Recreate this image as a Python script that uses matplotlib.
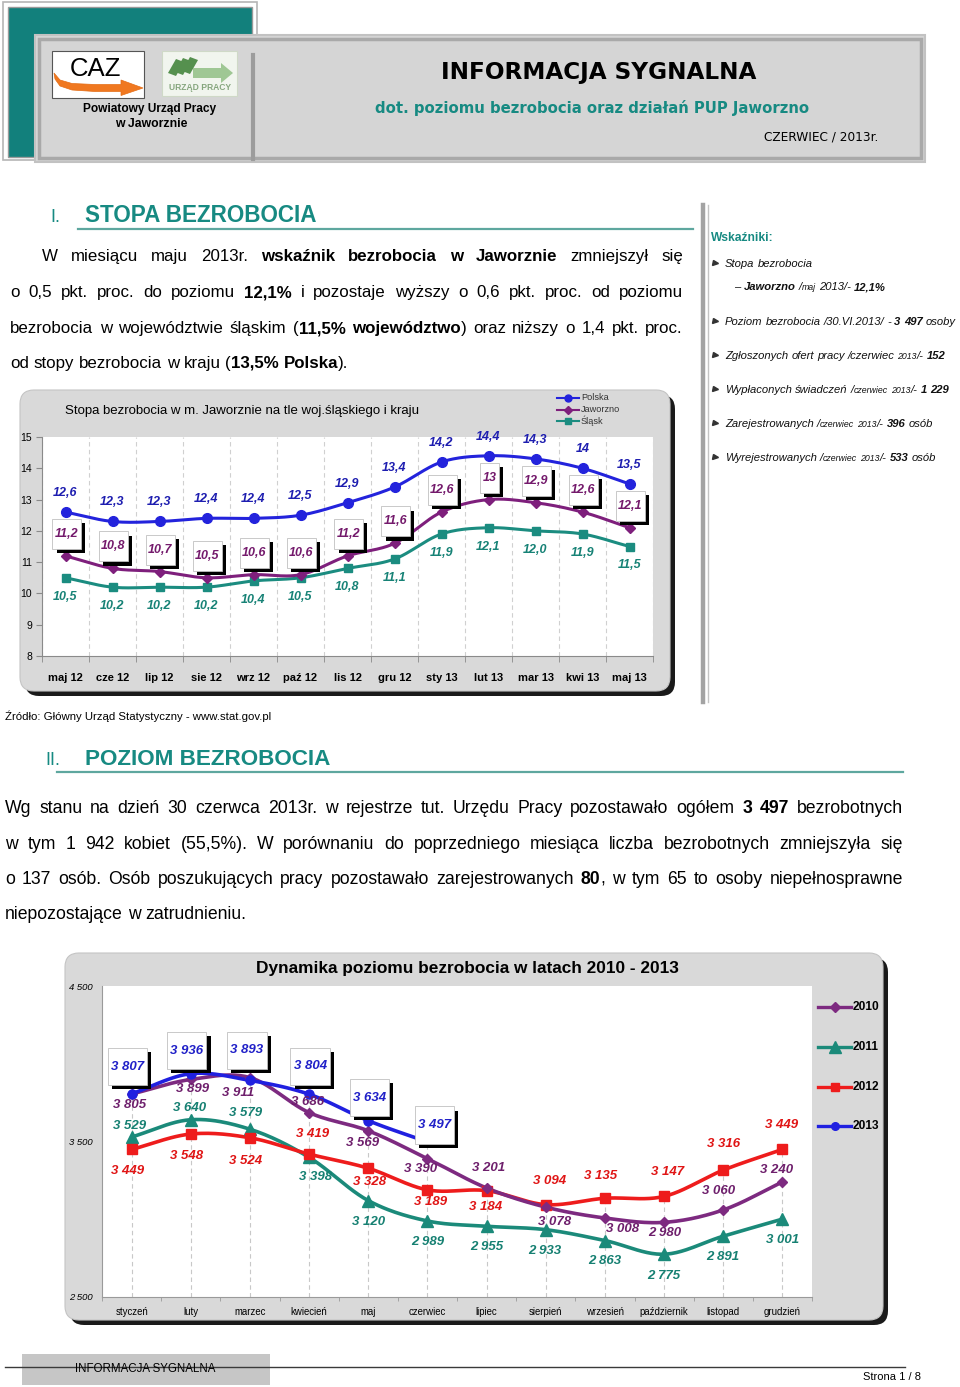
import re

import matplotlib
matplotlib.use("Agg")
import numpy as np
import matplotlib.pyplot as plt
from matplotlib import font_manager as fm
from matplotlib import patheffects as pe
from matplotlib.patches import Rectangle, FancyBboxPatch, Polygon
from matplotlib.path import Path


# ---- chart 1: unemployment rate (%) -------------------------------------
MONTHS_1 = ["maj 12", "cze 12", "lip 12", "sie 12", "wrz 12", "paź 12", "lis 12",
            "gru 12", "sty 13", "lut 13", "mar 13", "kwi 13", "maj 13"]
POLSKA = [12.6, 12.3, 12.3, 12.4, 12.4, 12.5, 12.9, 13.4, 14.2, 14.4, 14.3, 14.0, 13.5]
JAWORZNO = [11.2, 10.8, 10.7, 10.5, 10.6, 10.6, 11.2, 11.6, 12.6, 13.0, 12.9, 12.6, 12.1]
SLASK = [10.5, 10.2, 10.2, 10.2, 10.4, 10.5, 10.8, 11.1, 11.9, 12.1, 12.0, 11.9, 11.5]
RATE_TICKS = [8, 9, 10, 11, 12, 13, 14, 15]

# ---- chart 2: number of unemployed ---------------------------------------
MONTHS_2 = ["styczeń", "luty", "marzec", "kwiecień", "maj", "czerwiec", "lipiec",
            "sierpień", "wrzesień", "październik", "listopad", "grudzień"]
Y2010 = [3805, 3899, 3911, 3686, 3569, 3390, 3201, 3078, 3008, 2980, 3060, 3240]
Y2011 = [3529, 3640, 3579, 3398, 3120, 2989, 2955, 2933, 2863, 2775, 2891, 3001]
Y2012 = [3449, 3548, 3524, 3419, 3328, 3189, 3184, 3094, 3135, 3147, 3316, 3449]
Y2013 = [3807, 3936, 3893, 3804, 3634, 3497]
LEVEL_TICKS = [2500, 3500, 4500]

# label offsets (pixels) for chart 2, hand placed like in the original
OFF_2010 = [(-2, -11), (2, -10), (-12, -15), (-2, 11), (-6, -12), (-7, -10),
            (2, 20), (9, -15), (18, -11), (1, -11), (-5, 19), (-6, 12)]
OFF_2011 = [(-2, 11), (-1, 12), (-4, 16), (6, -20), (0, -21), (0, -21),
            (0, -21), (-1, -21), (0, -20), (0, -22), (0, -21), (0, -21)]
OFF_2012 = [(-4, -22), (-4, -22), (-4, -23), (3, 20), (1, -14), (3, -12),
            (-1, -16), (4, 24), (-4, 22), (3, 24), (0, 26), (-1, 24)]
OFF_2013 = [(-4, 27), (-4, 23), (-3, 30), (1, 28), (1, 23), (7, 17)]

# ---- page text -------------------------------------------------------------
PARA_1 = [
    "W miesiącu maju 2013r. **wskaźnik bezrobocia w Jaworznie** zmniejszył się",
    "o 0,5 pkt. proc. do poziomu **12,1%** i pozostaje wyższy o 0,6 pkt. proc. od poziomu",
    "bezrobocia w województwie śląskim (**11,5% województwo**) oraz niższy o 1,4 pkt. proc.",
    "od stopy bezrobocia w kraju (**13,5% Polska**).",
]
PARA_2 = [
    "Wg stanu na dzień 30 czerwca 2013r. w rejestrze tut. Urzędu Pracy pozostawało ogółem **3 497** bezrobotnych",
    "w tym 1 942 kobiet (55,5%). W porównaniu do poprzedniego miesiąca liczba bezrobotnych zmniejszyła się",
    "o 137 osób. Osób poszukujących pracy pozostawało zarejestrowanych **80**, w tym 65 to osoby niepełnosprawne",
    "niepozostające w zatrudnieniu.",
]
SIDEBAR = [
    "Stopa bezrobocia",
    "– **Jaworzno** /~maj~ 2013/- **12,1%**",
    "Poziom bezrobocia /30.VI.2013/ - **3 497** osoby",
    "Zgłoszonych ofert pracy /czerwiec ~2013~/- **152**",
    "Wypłaconych świadczeń /~czerwiec 2013~/- **1 229**",
    "Zarejestrowanych /~czerwiec 2013~/- **396** osób",
    "Wyrejestrowanych /~czerwiec 2013~/- **533** osób",
]

W, H = 960, 1387
TEAL = "#178a82"
C_PL, C_JW, C_SL = "#2323dc", "#7e1f7c", "#1b8c80"
L_PL, L_JW, L_SL = "#1e1eb0", "#741a6c", "#178276"
C10, C11, C12, C13 = "#7d2a80", "#1b8a7a", "#ee1c1c", "#2020e0"
L10, L11, L12, L13 = "#6e1f6c", "#168072", "#e01515", "#2020c8"


def has_font(name):
    try:
        fm.findfont(fm.FontProperties(family=name), fallback_to_default=False)
        return True
    except ValueError:
        return False


if has_font("Liberation Sans Narrow"):
    NARROW, NS = "Liberation Sans Narrow", 1.0
else:
    NARROW, NS = "Liberation Sans", 0.82
SANS = "Liberation Sans"

fig = plt.figure(figsize=(W / 100, H / 100), dpi=100)
page = fig.add_axes([0, 0, 1, 1])
page.set_xlim(0, W)
page.set_ylim(H, 0)
page.axis("off")
renderer = fig.canvas.get_renderer()


def px_axes(x0, y0, x1, y1):
    ax = fig.add_axes([x0 / W, 1 - y1 / H, (x1 - x0) / W, (y1 - y0) / H])
    ax.set_zorder(2)
    return ax


def width_of(t):
    return t.get_window_extent(renderer).width


def fit_text(x, y, s, width, ha="left", **kw):
    kw.setdefault("family", NARROW)
    t = page.text(x, y, s, ha=ha, fontsize=10, **kw)
    t.set_fontsize(10 * width / width_of(t))
    return t


def parse(line):
    words, bold, small = [], False, False
    for raw in line.split(" "):
        segs = []
        for part in re.split(r"(\*\*|~)", raw):
            if part == "**":
                bold = not bold
            elif part == "~":
                small = not small
            elif part:
                segs.append((part, bold, small))
        words.append(segs)
    return words


def space_width(size, style, family):
    a = page.text(0, 0, "n n", fontsize=size, fontstyle=style, family=family)
    b = page.text(0, 0, "nn", fontsize=size, fontstyle=style, family=family)
    w = width_of(a) - width_of(b)
    a.remove()
    b.remove()
    return w


def draw_line(x0, y, line, size, x1=None, color="black", style="normal",
              family=None, dry=False):
    family = family or NARROW
    words, widths = [], []
    for segs in parse(line):
        arts, ww = [], 0
        for txt, bold, small in segs:
            t = page.text(0, y, txt, fontsize=size * (0.78 if small else 1),
                          fontweight="bold" if bold else "normal", fontstyle=style,
                          family=family, color=color, va="baseline", ha="left")
            w = width_of(t)
            arts.append((t, w))
            ww += w
        words.append(arts)
        widths.append(ww)
    sp = space_width(size, style, family)
    natural = sum(widths) + sp * (len(words) - 1)
    if dry:
        for arts in words:
            for t, _ in arts:
                t.remove()
        return natural
    gap = sp
    if x1 is not None and len(words) > 1:
        gap = (x1 - x0 - sum(widths)) / (len(words) - 1)
    x = x0
    for arts, ww in zip(words, widths):
        for t, w in arts:
            t.set_x(x)
            x += w
        x += gap
    return natural


def draw_paragraph(lines, x0s, x1, ys, size):
    # shrink if the font is too wide for the column
    scale = 1.0
    for ln, xs in zip(lines[:-1], x0s[:-1]):
        nat = draw_line(xs, 0, ln, size, dry=True)
        scale = min(scale, (x1 - xs) / nat * 0.97)
    size *= scale
    for i, (ln, xs, y) in enumerate(zip(lines, x0s, ys)):
        draw_line(xs, y + 7, ln, size, x1=x1 if i < len(lines) - 1 else None)


def smooth(xs, ys, n=24):
    pts = np.column_stack([xs, ys]).astype(float)
    ext = np.vstack([2 * pts[0] - pts[1], pts, 2 * pts[-1] - pts[-2]])
    t = np.linspace(0, 1, n, endpoint=False)[:, None]
    segs = []
    for i in range(1, len(ext) - 2):
        p0, p1, p2, p3 = ext[i - 1], ext[i], ext[i + 1], ext[i + 2]
        segs.append(0.5 * (2 * p1 + (p2 - p0) * t + (2 * p0 - 5 * p1 + 4 * p2 - p3) * t ** 2
                           + (3 * p1 - p0 - 3 * p2 + p3) * t ** 3))
    segs.append(pts[-1:])
    out = np.vstack(segs)
    return out[:, 0], out[:, 1]


def box_style(padx, pady):
    def style(x0, y0, width, height, mutation_size):
        px, py = padx * mutation_size, pady * mutation_size
        return Path([(x0 - px, y0 - py), (x0 + width + px, y0 - py),
                     (x0 + width + px, y0 + height + py), (x0 - px, y0 + height + py),
                     (x0 - px, y0 - py)], closed=True)
    return style


def value_label(ax, x, y, s, off, color, size, boxed=False, padx=0.3, pady=0.5):
    ann = ax.annotate(s, (x, y), xytext=off, textcoords="offset pixels",
                      ha="center", va="center", color=color, fontsize=size,
                      fontweight="bold", fontstyle="italic", family=NARROW,
                      zorder=6, annotation_clip=False)
    if boxed:
        ann.set_bbox(dict(boxstyle=box_style(padx, pady), fc="white", ec="#c0c0c0", lw=0.6))
        ann.get_bbox_patch().set_path_effects(
            [pe.withSimplePatchShadow(offset=(3, -3), shadow_rgbFace="black", alpha=1.0)])
    return ann


def frame(x0, y0, x1, y1, fc="#d9d9d9", shadow=5):
    sh = FancyBboxPatch((x0 + shadow, y0 + shadow), x1 - x0, y1 - y0,
                        boxstyle="round,pad=0,rounding_size=14", fc="#1a1a1a", ec="none")
    fr = FancyBboxPatch((x0, y0), x1 - x0, y1 - y0,
                        boxstyle="round,pad=0,rounding_size=14", fc=fc, ec="#c4c4c4", lw=0.8)
    page.add_patch(sh)
    page.add_patch(fr)


def draw_header():
    # teal block behind
    page.add_patch(Rectangle((3, 2), 254, 158, fc="white", ec="#b5b5b5", lw=1.2))
    page.add_patch(Rectangle((8, 7), 244, 150, fc="#12807c", ec="#9a9a9a", lw=1.0))
    # grey header bar
    page.add_patch(Rectangle((35, 35), 890, 127, fc="#d5d5d5", ec="#c2c2c2", lw=1.5))
    page.add_patch(Rectangle((39, 39), 882, 119, fc="none", ec="#a9a9a9", lw=2.5))
    page.plot([253, 253], [55, 159], color="#9c9c9c", lw=3)
    # CAZ logo: white card, orange swoosh arrow, black letters
    page.add_patch(Rectangle((52, 51), 92, 47, fc="white", ec="#555555", lw=0.8))
    page.add_patch(Polygon([(54, 73), (60, 80), (72, 83.5), (95, 84.5), (121, 84.5),
                            (121, 80), (143, 88), (121, 95.5), (121, 91.5), (95, 91.5),
                            (72, 90), (60, 86), (55, 79)],
                           closed=True, fc="#f07820", ec="#e46c14", lw=0.5))
    page.text(95, 69, "CAZ", ha="center", va="center", fontsize=18.5, family=SANS,
              color="black", zorder=5)
    # Urzad Pracy logo
    page.add_patch(Rectangle((162, 51), 75, 45, fc="#f1f5ee", ec="#cfd9c7", lw=0.8))
    for k in range(3):
        page.add_patch(Polygon([(168 + 7 * k, 73 - k), (176 + 7 * k, 59 - k),
                                (184 + 7 * k, 62 - k), (176 + 7 * k, 76 - k)],
                               closed=True, fc="#55904e", ec="none"))
    page.add_patch(Polygon([(193, 68), (221, 68), (221, 63), (233, 73), (221, 83),
                            (221, 78), (193, 78)], closed=True, fc="#9fc794", ec="none"))
    fit_text(200, 88, "URZĄD PRACY", 62, ha="center", va="center", family=SANS,
             fontweight="bold", color="#86a67e")
    fit_text(150, 109, "Powiatowy Urząd Pracy", 133, ha="center", va="center",
             family=SANS, fontweight="bold")
    fit_text(151, 124, "w Jaworznie", 72, ha="center", va="center", family=SANS,
             fontweight="bold")
    fit_text(599, 73, "INFORMACJA SYGNALNA", 316, ha="center", va="center",
             family="DejaVu Sans", fontweight="bold")
    fit_text(592, 108, "dot. poziomu bezrobocia oraz działań PUP Jaworzno", 436,
             ha="center", va="center", family="DejaVu Sans", fontweight="bold", color=TEAL)
    fit_text(878, 137, "CZERWIEC / 2013r.", 114, ha="right", va="center",
             family="DejaVu Sans")


def draw_heading(num, title, num_x, x1, y, line_x0, line_x1):
    fit_text(num_x, y + 10, num, 10 if num == "I." else 15, va="baseline", color=TEAL)
    fit_text(85, y + 10, title, x1 - 85, va="baseline", color=TEAL, fontweight="bold")
    page.plot([line_x0, line_x1], [y + 17, y + 17], color="#5ea79f", lw=1.6)


def draw_sidebar():
    page.plot([703, 703], [205, 702], color="#a3a3a3", lw=3.2)
    page.plot([708, 708], [205, 702], color="#c4c4c4", lw=1.0)
    fit_text(711, 241, "Wskaźniki:", 62, va="baseline", color=TEAL, fontweight="bold")
    ys = [263, 286, 321, 355, 389, 423, 457]
    xs = [725, 734, 725, 725, 725, 725, 725]
    size = 10.5 * NS
    scale = 1.0
    for ln, x in zip(SIDEBAR, xs):
        nat = draw_line(x, 0, ln, size, style="italic", dry=True)
        scale = min(scale, (956 - x) / nat)
    size *= scale
    for i, (ln, x, y) in enumerate(zip(SIDEBAR, xs, ys)):
        draw_line(x, y + 4, ln, size, style="italic", color="#111111")
        if i != 1:
            page.plot([715], [y], marker=">", ms=3.6, color="#333333")


def draw_rate_chart():
    frame(20, 390, 670, 691)
    fit_text(65, 414, "Stopa bezrobocia w m. Jaworznie na tle woj.śląskiego i kraju", 355,
             va="baseline")
    ax = px_axes(42, 437, 653, 656)
    ax.set_facecolor("white")
    n = len(MONTHS_1)
    x = np.arange(n) + 0.5
    ax.set_xlim(0, n)
    ax.set_ylim(RATE_TICKS[0], RATE_TICKS[-1])

    ax.set_xticks(np.arange(0, n + 1), minor=True)
    ax.grid(True, which="minor", axis="x", color="#d0d0d0", lw=0.8, ls=(0, (4, 3)))
    ax.set_xticks(x, MONTHS_1, fontsize=8, fontweight="bold", family=SANS)
    ax.tick_params(axis="x", which="major", length=0, pad=12)
    ax.tick_params(axis="x", which="minor", length=4, color="#8a8a8a")
    ax.set_yticks(RATE_TICKS)
    ax.tick_params(axis="y", length=4, color="#8a8a8a", labelsize=7.5, pad=3)
    for lab in ax.get_yticklabels():
        lab.set_family(SANS)
    for side in ("top", "right"):
        ax.spines[side].set_visible(False)
    for side in ("left", "bottom"):
        ax.spines[side].set_color("#8a8a8a")

    series = [
        (SLASK, C_SL, "s", 5.5, L_SL, (0, -19), False, "{:.1f}"),
        (JAWORZNO, C_JW, "D", 4.8, L_JW, (1, 22), True, "{:g}"),
        (POLSKA, C_PL, "o", 7.0, L_PL, (0, 19), False, "{:g}"),
    ]
    for vals, color, marker, ms, lcol, off, boxed, fmt in series:
        sx, sy = smooth(x, vals)
        ax.plot(sx, sy, color=color, lw=2.2, zorder=3, solid_capstyle="round")
        ax.plot(x, vals, ls="none", marker=marker, ms=ms, color=color, zorder=4)
        for xi, v in zip(x, vals):
            value_label(ax, xi, v, fmt.format(v).replace(".", ","), off, lcol,
                        11 * NS, boxed=boxed, padx=0.18, pady=0.72)

    # small legend at the top right of the frame
    for (name, color, marker, ms), y in zip(
            [("Polska", C_PL, "o", 5), ("Jaworzno", C_JW, "D", 3.8), ("Śląsk", C_SL, "s", 4.5)],
            [398, 410, 421]):
        page.plot([557, 579], [y, y], color=color, lw=1.5)
        page.plot([568], [y], marker=marker, ms=ms, color=color)
        page.text(581, y, name, va="center", fontsize=8 * NS, family=NARROW, color="#333333")


def draw_level_chart():
    frame(65, 953, 883, 1320)
    fit_text(467, 973, "Dynamika poziomu bezrobocia w latach 2010 - 2013", 422,
             ha="center", va="baseline", fontweight="bold")
    ax = px_axes(102, 986, 812, 1297)
    ax.set_facecolor("white")
    n = len(MONTHS_2)
    x = np.arange(n) + 0.5
    ax.set_xlim(0, n)
    ax.set_ylim(LEVEL_TICKS[0], LEVEL_TICKS[-1])

    # dashed drop lines from the highest value of each month
    all_years = [Y2010, Y2011, Y2012, Y2013]
    table = np.full((len(all_years), n), np.nan)
    for i, vals in enumerate(all_years):
        table[i, :len(vals)] = vals
    ax.vlines(x, LEVEL_TICKS[0], np.nanmax(table, axis=0), color="#c8c8c8", lw=0.8,
              ls=(0, (4, 3)), zorder=1)

    ax.set_xticks(x, MONTHS_2, fontsize=8.5 * NS, family=NARROW)
    ax.set_xticks(np.arange(0, n + 1), minor=True)
    ax.tick_params(axis="x", which="major", length=0, pad=7)
    ax.tick_params(axis="x", which="minor", length=3, color="#9a9a9a")
    ax.set_yticks(LEVEL_TICKS, [f"{v:,}".replace(",", " ") for v in LEVEL_TICKS],
                  fontsize=8.3 * NS, family=NARROW, fontstyle="italic")
    ax.tick_params(axis="y", length=0, pad=7)
    for side in ("top", "right"):
        ax.spines[side].set_visible(False)
    for side in ("left", "bottom"):
        ax.spines[side].set_color("#9a9a9a")

    series = [
        (Y2011, C11, "^", 8.5, L11, OFF_2011, False),
        (Y2012, C12, "s", 6.5, L12, OFF_2012, False),
        (Y2010, C10, "D", 5.5, L10, OFF_2010, False),
        (Y2013, C13, "o", 6.5, L13, OFF_2013, True),
    ]
    for vals, color, marker, ms, lcol, offs, boxed in series:
        xs = x[:len(vals)]
        sx, sy = smooth(xs, vals)
        ax.plot(sx, sy, color=color, lw=2.6, zorder=3, solid_capstyle="round")
        ax.plot(xs, vals, ls="none", marker=marker, ms=ms, color=color, zorder=4)
        for xi, v, off in zip(xs, vals, offs):
            value_label(ax, xi, v, f"{v:,}".replace(",", " "), off, lcol, 11.6 * NS,
                        boxed=boxed, padx=0.23, pady=0.95)

    for (name, color, marker, ms), y in zip(
            [("2010", C10, "D", 5), ("2011", C11, "^", 8), ("2012", C12, "s", 6),
             ("2013", C13, "o", 5.5)],
            [1007, 1047, 1087, 1126]):
        page.plot([818, 851], [y, y], color=color, lw=2.4)
        page.plot([834.5], [y], marker=marker, ms=ms, color=color)
        page.text(853, y, name, va="center", fontsize=10.4 * NS, family=NARROW,
                  fontweight="bold")


def draw_footer():
    page.plot([5, 905], [1367, 1367], color="#3a3a3a", lw=1.0)
    page.add_patch(Rectangle((22, 1354), 248, 31, fc="#c6c6c6", ec="none"))
    fit_text(145, 1369, "INFORMACJA SYGNALNA", 140, ha="center", va="center")
    fit_text(921, 1377, "Strona 1 / 8", 58, ha="right", va="center")


def main():
    draw_header()
    draw_heading("I.", "STOPA BEZROBOCIA", 50, 317, 212, 78, 693)
    draw_paragraph(PARA_1, [42, 10, 10, 10], 683, [254, 290, 326, 361], 14.0)
    draw_sidebar()
    draw_rate_chart()
    fit_text(5, 716, "Źródło: Główny Urząd Statystyczny - www.stat.gov.pl", 265,
             va="center")
    draw_heading("II.", "POZIOM BEZROBOCIA", 45, 330, 755, 57, 903)
    draw_paragraph(PARA_2, [5, 5, 5, 5], 903, [806, 842, 877, 912], 14.0)
    draw_level_chart()
    draw_footer()
    fig.savefig("out.png", dpi=100)


if __name__ == "__main__":
    main()
